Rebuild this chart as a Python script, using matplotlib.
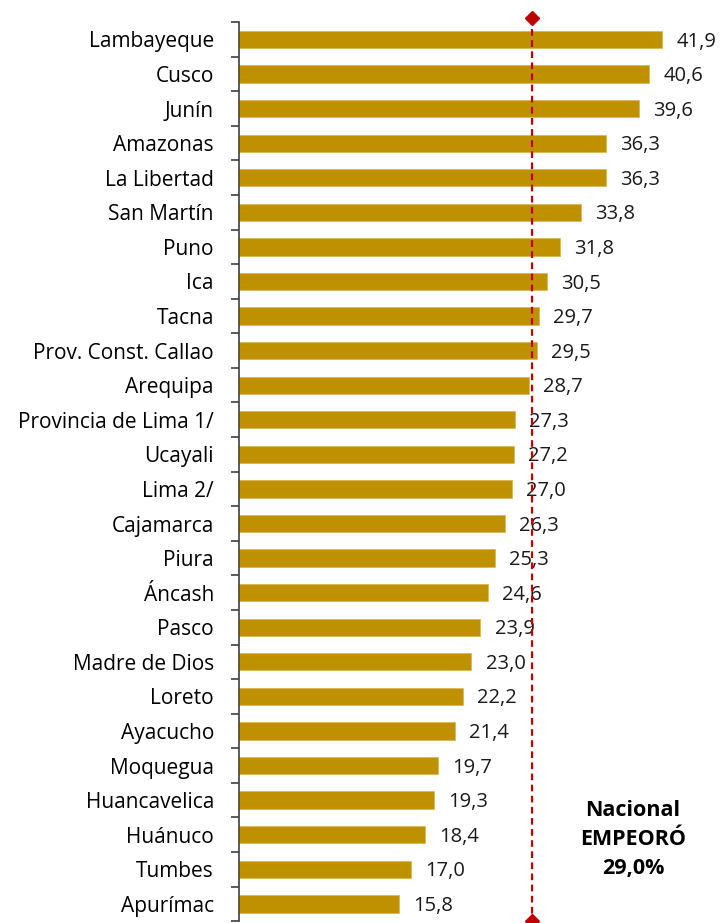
import numpy as np
import matplotlib
matplotlib.use('Agg')
import matplotlib.pyplot as plt

regions = ['Lambayeque', 'Cusco', 'Junín', 'Amazonas', 'La Libertad', 'San Martín',
           'Puno', 'Ica', 'Tacna', 'Prov. Const. Callao', 'Arequipa',
           'Provincia de Lima 1/', 'Ucayali', 'Lima 2/', 'Cajamarca', 'Piura',
           'Áncash', 'Pasco', 'Madre de Dios', 'Loreto', 'Ayacucho', 'Moquegua',
           'Huancavelica', 'Huánuco', 'Tumbes', 'Apurímac']
values = [41.9, 40.6, 39.6, 36.3, 36.3, 33.8, 31.8, 30.5, 29.7, 29.5, 28.7,
          27.3, 27.2, 27.0, 26.3, 25.3, 24.6, 23.9, 23.0, 22.2, 21.4, 19.7,
          19.3, 18.4, 17.0, 15.8]
nacional = 29.0

plt.rcParams['font.family'] = ['Open Sans', 'DejaVu Sans']

fig = plt.figure(figsize=(7.22, 9.23), dpi=100)
ax = fig.add_axes([0.331, 0.002, 0.669, 0.974])

y = np.arange(len(regions))
ax.barh(y, values, height=0.5, color='#BF9000', edgecolor='#D9B54A', linewidth=0.5)

for yi, v in zip(y, values):
    ax.text(v + 1.4, yi + 0.06, f'{v:.1f}'.replace('.', ','), va='center', ha='left',
            fontsize=14.5, color='#1a1a1a')

# linea nacional
ax.plot([nacional, nacional], [-0.62, len(regions) - 0.5], color='#C00000', ls=(0, (3, 2)),
        lw=1.6, clip_on=False, zorder=3)
ax.plot([nacional, nacional], [-0.62, len(regions) - 0.5], ls='none', marker='D',
        color='#C00000', markersize=7, clip_on=False, zorder=4)

ax.text(39.0, 23.15, 'Nacional\nEMPEORÓ\n29,0%', ha='center', va='center',
        fontsize=15.5, fontweight='bold', linespacing=1.5)

ax.set_ylim(len(regions) - 0.5, -0.5)
ax.set_xlim(0, 47.8)

ax.set_yticks(y)
ax.set_yticklabels(regions, fontsize=15)
ax.tick_params(axis='y', which='major', length=0, pad=18)
ax.set_yticks(np.arange(-0.5, len(regions)), minor=True)
ax.tick_params(axis='y', which='minor', length=6, width=1.2, color='#404040')
ax.set_xticks([])

for s in ['top', 'right', 'bottom']:
    ax.spines[s].set_visible(False)
ax.spines['left'].set_color('#404040')
ax.spines['left'].set_linewidth(1.2)

fig.savefig('out.png', dpi=100)
